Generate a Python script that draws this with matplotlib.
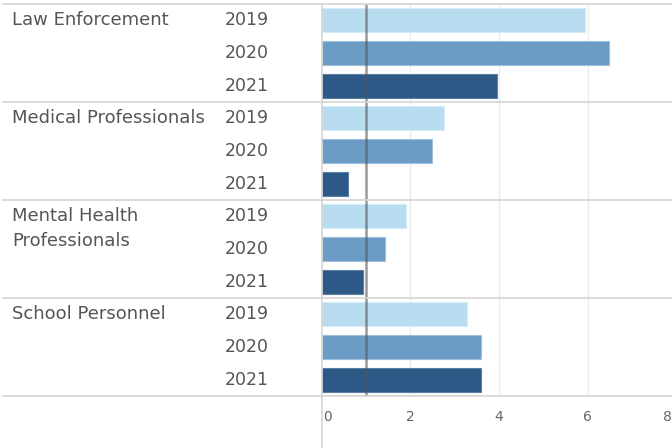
import matplotlib
matplotlib.use("Agg")
import matplotlib.pyplot as plt
from matplotlib.lines import Line2D
import matplotlib.transforms as mtransforms

categories = ["Law Enforcement", "Medical Professionals", "Mental Health\nProfessionals", "School Personnel"]
years = ["2019", "2020", "2021"]
values = {
    "Law Enforcement": [5.94, 6.49, 3.95],
    "Medical Professionals": [2.75, 2.48, 0.60],
    "Mental Health\nProfessionals": [1.90, 1.42, 0.93],
    "School Personnel": [3.27, 3.60, 3.60],
}
year_colors = ["#b8ddf0", "#6a9cc5", "#2c5985"]
edge_colors = ["#d6ecf8", "#9fc0dc", "#5a7fa5"]
reference_value = 1.0
xticks = [0, 2, 4, 6, 8]

W, H = 672, 448
plt.rcParams['font.family'] = ['DejaVu Sans']
fig = plt.figure(figsize=(W / 100, H / 100), dpi=100)

x0_px = 321.7
px_per_unit = 44.3
xmax = 8.2
top_px, bot_px = 4, 396
ax = fig.add_axes([x0_px / W, 1 - bot_px / H, xmax * px_per_unit / W, (bot_px - top_px) / H])
ax.set_xlim(0, xmax)
nrows = len(categories) * len(years)
ax.set_ylim(nrows - 0.5, -0.5)
row_px = (bot_px - top_px) / nrows

for s in ax.spines.values():
    s.set_visible(False)

for t in xticks[1:]:
    ax.axvline(t, color="#ececec", lw=1, zorder=0)

row = 0
text_color = "#555555"
blend = mtransforms.blended_transform_factory(fig.transFigure, ax.transData)
for ci, cat in enumerate(categories):
    vals = values[cat]
    for yi, yr in enumerate(years):
        ax.barh(row, vals[yi], height=0.74, color=year_colors[yi],
                edgecolor=edge_colors[yi], linewidth=0.8, zorder=2)
        ax.text(269 / W, row, yr, transform=blend, ha="right", va="center",
                fontsize=12.5, color=text_color, clip_on=False)
        row += 1
    for li, line in enumerate(cat.split("\n")):
        ax.text(12 / W, ci * 3 + li * 25 / row_px, line, transform=blend, ha="left",
                va="center", fontsize=13, color=text_color, clip_on=False)

# group separators
for g in range(len(categories) + 1):
    yv = g * 3 - 0.5
    ln = Line2D([3 / W, 1], [yv, yv], transform=blend, color="#d4d4d4", lw=1.2, clip_on=False, zorder=3)
    fig.add_artist(ln)

# vertical axis line
fig.add_artist(Line2D([x0_px / W, x0_px / W], [0, 1 - top_px / H], transform=fig.transFigure,
                      color="#d4d4d4", lw=1.2))

# reference line
ax.axvline(reference_value, color="#555555", lw=1.8, alpha=0.6, zorder=4)

ax.set_yticks([])
ax.set_xticks(xticks)
ax.set_xticklabels([str(t) for t in xticks])
ax.tick_params(axis="x", length=0, pad=10, labelsize=10, labelcolor="#666666")
labels = ax.get_xticklabels()
# Tableau keeps edge labels inside the pane
labels[0].set_horizontalalignment("left")
labels[0].set_transform(labels[0].get_transform() + mtransforms.ScaledTranslation(1 / 100, 0, fig.dpi_scale_trans))
labels[-1].set_horizontalalignment("right")
labels[-1].set_transform(labels[-1].get_transform() + mtransforms.ScaledTranslation(-4.5 / 100, 0, fig.dpi_scale_trans))

fig.savefig("out.png", dpi=100)
